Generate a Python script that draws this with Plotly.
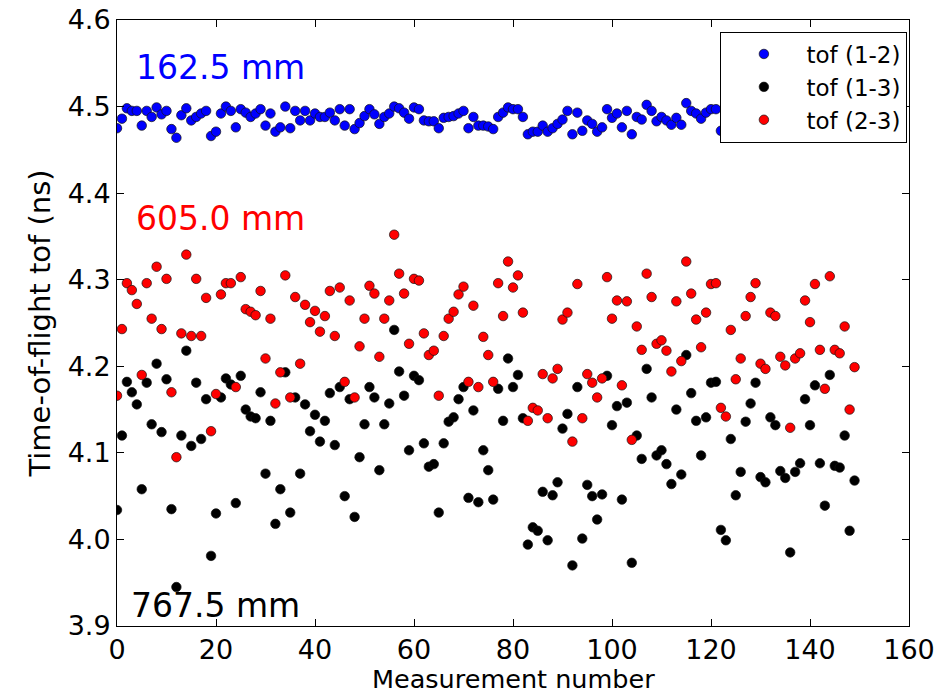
import plotly.graph_objects as go

measurement = list(range(150))

tof_12 = [
    4.475, 4.486, 4.498, 4.495, 4.495, 4.478, 4.495, 4.488, 4.499, 4.491,
    4.495, 4.474, 4.464, 4.490, 4.498, 4.484, 4.488, 4.492, 4.495, 4.466,
    4.471, 4.492, 4.500, 4.495, 4.476, 4.497, 4.493, 4.488, 4.492, 4.497,
    4.478, 4.492, 4.471, 4.476, 4.500, 4.475, 4.495, 4.484, 4.495, 4.484,
    4.492, 4.488, 4.488, 4.493, 4.484, 4.497, 4.478, 4.497, 4.474, 4.481,
    4.489, 4.497, 4.491, 4.480, 4.488, 4.492, 4.500, 4.498, 4.493, 4.486,
    4.499, 4.497, 4.484, 4.483, 4.483, 4.475, 4.487, 4.488, 4.489, 4.492,
    4.495, 4.475, 4.488, 4.478, 4.478, 4.477, 4.474, 4.488, 4.493, 4.499,
    4.497, 4.497, 4.488, 4.468, 4.471, 4.471, 4.478, 4.471, 4.475, 4.480,
    4.485, 4.495, 4.468, 4.493, 4.472, 4.484, 4.480, 4.471, 4.476, 4.497,
    4.487, 4.492, 4.476, 4.495, 4.468, 4.488, 4.485, 4.502, 4.495, 4.483,
    4.488, 4.484, 4.479, 4.487, 4.479, 4.504, 4.495, 4.492, 4.486, 4.493,
    4.497, 4.497, 4.472, 4.485, 4.490, 4.494, 4.488, 4.482, 4.491, 4.496,
    4.487, 4.480, 4.489, 4.493, 4.484, 4.478, 4.466, 4.486, 4.492, 4.497,
    4.488, 4.483, 4.490, 4.495, 4.486, 4.481, 4.489, 4.494, 4.487, 4.491,
]

tof_13 = [
    4.034, 4.120, 4.182, 4.170, 4.156, 4.058, 4.181, 4.133, 4.203, 4.124,
    4.185, 4.035, 3.945, 4.120, 4.218, 4.108, 4.181, 4.116, 4.162, 3.981,
    4.030, 4.164, 4.186, 4.179, 4.042, 4.189, 4.150, 4.142, 4.140, 4.170,
    4.076, 4.137, 4.018, 4.058, 4.193, 4.031, 4.164, 4.076, 4.156, 4.125,
    4.144, 4.113, 4.137, 4.169, 4.109, 4.176, 4.050, 4.162, 4.026, 4.095,
    4.133, 4.176, 4.164, 4.080, 4.133, 4.157, 4.242, 4.194, 4.166, 4.103,
    4.189, 4.184, 4.111, 4.084, 4.087, 4.031, 4.111, 4.136, 4.141, 4.162,
    4.176, 4.048, 4.149, 4.043, 4.103, 4.080, 4.046, 4.174, 4.137, 4.209,
    4.176, 4.190, 4.140, 3.994, 4.014, 4.010, 4.055, 3.999, 4.051, 4.066,
    4.128, 4.145, 3.970, 4.176, 4.001, 4.063, 4.050, 4.023, 4.052, 4.189,
    4.132, 4.154, 4.046, 4.158, 3.973, 4.120, 4.093, 4.197, 4.164, 4.097,
    4.103, 4.087, 4.064, 4.150, 4.075, 4.213, 4.169, 4.137, 4.097, 4.141,
    4.181, 4.182, 4.011, 3.999, 4.116, 4.051, 4.078, 4.136, 4.157, 4.181,
    4.072, 4.066, 4.141, 4.132, 4.079, 4.071, 3.985, 4.078, 4.088, 4.162,
    4.132, 4.178, 4.088, 4.039, 4.190, 4.085, 4.083, 4.120, 4.010, 4.068,
]

tof_23 = [
    4.166, 4.243, 4.296, 4.288, 4.272, 4.190, 4.296, 4.255, 4.315, 4.243,
    4.301, 4.170, 4.095, 4.238, 4.329, 4.235, 4.301, 4.235, 4.279, 4.125,
    4.168, 4.283, 4.296, 4.296, 4.176, 4.303, 4.266, 4.263, 4.259, 4.287,
    4.209, 4.255, 4.157, 4.193, 4.305, 4.164, 4.280, 4.203, 4.271, 4.251,
    4.264, 4.240, 4.258, 4.287, 4.235, 4.291, 4.182, 4.276, 4.164, 4.223,
    4.255, 4.293, 4.284, 4.211, 4.255, 4.276, 4.352, 4.307, 4.284, 4.226,
    4.301, 4.299, 4.238, 4.213, 4.218, 4.166, 4.235, 4.255, 4.263, 4.283,
    4.292, 4.182, 4.270, 4.176, 4.234, 4.213, 4.182, 4.296, 4.258, 4.321,
    4.291, 4.305, 4.262, 4.137, 4.152, 4.149, 4.191, 4.140, 4.186, 4.197,
    4.254, 4.262, 4.113, 4.295, 4.140, 4.191, 4.181, 4.164, 4.186, 4.303,
    4.255, 4.276, 4.178, 4.275, 4.115, 4.246, 4.219, 4.307, 4.280, 4.226,
    4.230, 4.218, 4.194, 4.275, 4.206, 4.321, 4.284, 4.254, 4.222, 4.262,
    4.295, 4.296, 4.152, 4.142, 4.242, 4.185, 4.209, 4.258, 4.280, 4.296,
    4.203, 4.197, 4.262, 4.258, 4.211, 4.201, 4.129, 4.209, 4.215, 4.276,
    4.251, 4.295, 4.219, 4.174, 4.304, 4.219, 4.215, 4.246, 4.150, 4.199,
]

series_names = ["tof (1-2)", "tof (1-3)", "tof (2-3)"]
series_colors = ["#0000ff", "#000000", "#ff0000"]
series_values = [tof_12, tof_13, tof_23]

distance_labels = ["162.5 mm", "605.0 mm", "767.5 mm"]
label_colors = ["#0000ff", "#ff0000", "#000000"]
label_x = [3.5, 3.5, 2.5]
label_y = [4.545, 4.371, 3.924]

x_title = "Measurement number"
y_title = "Time-of-flight tof (ns)"

x_ticks = [0, 20, 40, 60, 80, 100, 120, 140, 160]
y_ticks = [3.9, 4.0, 4.1, 4.2, 4.3, 4.4, 4.5, 4.6]

FONT = "DejaVu Sans, Liberation Sans, sans-serif"

fig = go.Figure()
for name, color, vals in zip(series_names, series_colors, series_values):
    fig.add_trace(go.Scatter(
        x=measurement, y=vals, mode="markers", name=name,
        marker=dict(color=color, size=9.5, line=dict(color="#111111", width=0.7)),
    ))

for txt, col, lx, ly in zip(distance_labels, label_colors, label_x, label_y):
    fig.add_annotation(x=lx, y=ly, xref="x", yref="y", text=txt, showarrow=False,
                       xanchor="left", yanchor="middle",
                       font=dict(family=FONT, size=33, color=col))

# x-axis title placed as a paper annotation so it can sit just below the tick labels
fig.add_annotation(x=0.5, y=-0.0608, xref="paper", yref="paper", text=x_title,
                   showarrow=False, xanchor="center", yanchor="top", borderpad=0,
                   font=dict(family=FONT, size=25.5, color="black"))

axis_common = dict(
    showgrid=False, zeroline=False, showline=True, linecolor="black", linewidth=1,
    mirror="ticks", ticks="inside", ticklen=7, tickwidth=1, tickcolor="black",
    tickfont=dict(family=FONT, size=27, color="black"), automargin=False,
)

fig.update_layout(
    width=947, height=693,
    margin=dict(l=117, r=38, t=20, b=67, autoexpand=False),
    paper_bgcolor="white", plot_bgcolor="white",
    showlegend=True,
    legend=dict(
        x=0.998, y=0.981, xanchor="right", yanchor="top",
        bgcolor="white", bordercolor="black", borderwidth=1,
        font=dict(family=FONT, size=23, color="black"),
        itemwidth=75, tracegroupgap=2,
    ),
    xaxis=dict(range=[0, 160], tickvals=x_ticks, **axis_common),
    yaxis=dict(range=[3.9, 4.6], tickvals=y_ticks, tickformat=".1f",
               title=dict(text=y_title, standoff=8,
                          font=dict(family=FONT, size=29, color="black")),
               **axis_common),
)

fig.write_html("out.html")
